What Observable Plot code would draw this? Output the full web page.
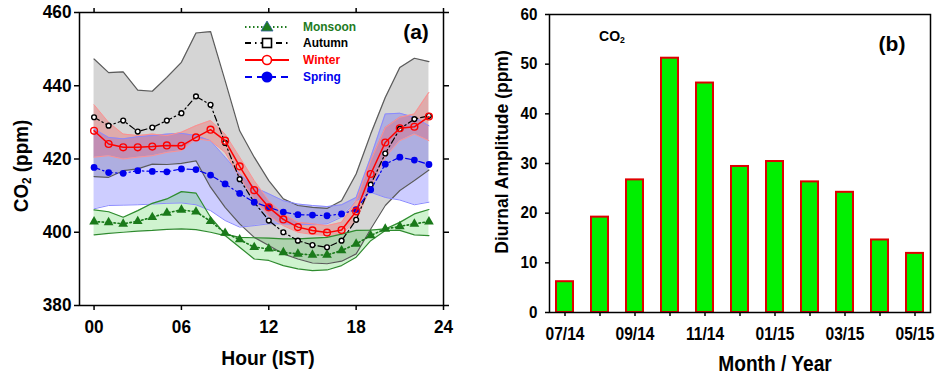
<!DOCTYPE html>
<html><head><meta charset="utf-8">
<script src="https://cdn.jsdelivr.net/npm/d3@7"></script>
<script src="https://cdn.jsdelivr.net/npm/@observablehq/plot@0.6"></script>
<style>
body{margin:0;background:#fff;}
#wrap{position:relative;width:936px;height:378px;overflow:hidden;font-family:"Liberation Sans",Arial,sans-serif;font-weight:bold;color:#000;}
.abs{position:absolute;white-space:nowrap;line-height:1;}
.plot{position:absolute;top:0;}
sub{font-size:0.62em;vertical-align:-0.25em;}
</style></head><body><div id="wrap"></div>
<script>
const FONT = '"Liberation Sans",Arial,sans-serif';

// ---- Panel (a): diurnal CO2 by season ----
const hours = [0,1,2,3,4,5,6,7,8,9,10,11,12,13,14,15,16,17,18,19,20,21,22,23];
const hourTicks = [0, 6, 12, 18, 24];
const co2Ticks = [380, 400, 420, 440, 460];

const monsoonMean = [402.9,402.7,402.3,403.0,404.1,405.3,406.1,405.6,403.0,399.8,398.0,395.9,395.5,394.5,394.1,393.8,393.8,395.0,396.8,399.1,400.9,401.6,402.3,402.9];
const monsoonHi   = [406.1,405.6,404.1,405.9,407.9,409.1,411.1,410.7,404.1,399.5,398.6,398.5,398.4,398.2,398.2,398.4,398.6,399.5,400.5,400.6,400.9,402.7,405.0,406.2];
const monsoonLo   = [399.3,399.7,400.0,400.3,400.5,400.8,400.9,400.7,400.0,399.1,395.9,392.7,392.3,390.9,390.0,389.5,389.7,390.9,393.2,397.7,400.5,400.5,399.3,399.1];

const autumnMean = [431.4,429.1,430.5,427.5,428.6,430.5,432.5,437.1,434.8,424.4,414.5,408.2,403.2,400.0,397.7,396.5,395.9,397.7,403.4,413.0,421.5,428.2,430.9,431.8];
const autumnHi   = [447.3,443.6,443.8,438.8,438.5,442.3,446.4,454.4,454.8,441.4,427.7,420.5,414.1,409.1,407.3,406.8,406.5,408.6,415.9,426.8,436.8,445.0,447.5,446.6];
const autumnLo   = [415.2,415.0,416.8,417.3,418.6,418.5,418.8,419.5,412.3,406.8,402.3,398.6,396.4,394.1,392.7,391.6,391.4,392.1,394.1,400.9,407.3,411.4,414.1,417.0];

const winterMean = [427.7,424.1,423.2,423.2,423.4,423.7,423.6,425.9,428.0,425.0,418.0,411.5,406.8,403.5,401.4,400.5,399.9,400.6,405.7,415.9,424.5,428.4,428.8,431.6];
const winterHi   = [434.8,430.0,426.8,426.4,426.8,426.4,427.3,429.1,430.5,426.8,420.5,414.1,408.6,405.0,402.7,402.3,401.8,402.7,408.6,419.5,428.6,431.4,432.3,438.2];
const winterLo   = [420.5,420.9,420.0,420.5,420.9,421.8,422.3,425.5,425.0,421.8,415.0,409.1,404.5,401.8,400.0,399.4,399.1,399.5,403.2,412.3,420.5,425.0,426.8,425.0];

const springMean = [417.7,416.3,416.1,416.8,416.6,416.5,417.3,417.1,415.6,413.2,410.6,408.2,406.8,405.5,404.8,404.7,404.5,405.0,406.2,411.6,418.6,420.5,419.7,418.5];
const springHi   = [428.2,425.9,425.5,426.1,426.4,426.8,427.0,426.4,425.0,420.5,415.9,412.3,410.5,408.6,407.7,407.3,407.0,407.5,409.5,420.5,432.3,432.5,431.4,429.1];
const springLo   = [406.4,407.3,407.4,407.5,407.7,407.9,408.0,407.5,405.9,403.2,401.4,401.8,402.3,402.3,402.1,402.1,402.3,404.1,408.6,410.9,409.5,408.8,407.5,408.2];

// ---- Panel (b): monthly diurnal amplitude ----
const months = ["07/14","08/14","09/14","10/14","11/14","12/14","01/15","02/15","03/15","04/15","05/15"];
const amplitude = [6.2,19.2,26.7,51.2,46.2,29.4,30.4,26.3,24.2,14.6,11.9];
const monthTickLabels = ["07/14","09/14","11/14","01/15","03/15","05/15"];
const ampTicks = [0,10,20,30,40,50,60];

function rows(mean, lo, hi) {
  return hours.map((h, i) => ({h, mean: mean[i], lo: lo[i], hi: hi[i]}));
}
const monsoon = rows(monsoonMean, monsoonLo, monsoonHi);
const autumn = rows(autumnMean, autumnLo, autumnHi);
const winter = rows(winterMean, winterLo, winterHi);
const spring = rows(springMean, springLo, springHi);

const left = Plot.plot({
  width: 460, height: 378,
  marginLeft: 79, marginRight: 17, marginTop: 12, marginBottom: 73,
  x: {domain: [-1, 24]},
  y: {domain: [380, 460]},
  style: {fontFamily: FONT, fontSize: "18px", fontWeight: "bold", color: "#000", background: "transparent", overflow: "visible"},
  marks: [
    Plot.areaY(autumn, {x: "h", y1: "lo", y2: "hi", fill: "#9a9a9a", fillOpacity: 0.42}),
    Plot.areaY(spring, {x: "h", y1: "lo", y2: "hi", fill: "#4848ff", fillOpacity: 0.27}),
    Plot.areaY(winter, {x: "h", y1: "lo", y2: "hi", fill: "#ff3030", fillOpacity: 0.25}),
    Plot.areaY(monsoon, {x: "h", y1: "lo", y2: "hi", fill: "#40d040", fillOpacity: 0.25}),
    Plot.line(autumn, {x: "h", y: "hi", stroke: "#5a5a5a", strokeWidth: 1.2}),
    Plot.line(autumn, {x: "h", y: "lo", stroke: "#5a5a5a", strokeWidth: 1.2}),
    Plot.line(spring, {x: "h", y: "hi", stroke: "#8a8aff", strokeWidth: 1}),
    Plot.line(spring, {x: "h", y: "lo", stroke: "#8a8aff", strokeWidth: 1}),
    Plot.line(winter, {x: "h", y: "hi", stroke: "#ff9090", strokeWidth: 1}),
    Plot.line(winter, {x: "h", y: "lo", stroke: "#ff9090", strokeWidth: 1}),
    Plot.line(monsoon, {x: "h", y: "hi", stroke: "#2e8b2e", strokeWidth: 1.2}),
    Plot.line(monsoon, {x: "h", y: "lo", stroke: "#2e8b2e", strokeWidth: 1.2}),
    Plot.line(monsoon, {x: "h", y: "mean", stroke: "#1a7a1a", strokeWidth: 1.6, strokeDasharray: "1.5,2.5"}),
    Plot.dot(monsoon, {x: "h", y: "mean", symbol: "triangle", r: 3.6, fill: "#1a7a1a", stroke: "none"}),
    Plot.line(autumn, {x: "h", y: "mean", stroke: "#000", strokeWidth: 1.2, strokeDasharray: "6,3,1.5,3"}),
    Plot.dot(autumn, {x: "h", y: "mean", r: 2.4, fill: "#fff", stroke: "#000", strokeWidth: 1.4}),
    Plot.line(spring, {x: "h", y: "mean", stroke: "#0000ee", strokeWidth: 1.2, strokeDasharray: "6,3,1.5,3"}),
    Plot.dot(spring, {x: "h", y: "mean", r: 3.4, fill: "#0000ee", stroke: "none"}),
    Plot.line(winter, {x: "h", y: "mean", stroke: "#ff0000", strokeWidth: 1.5}),
    Plot.dot(winter, {x: "h", y: "mean", r: 3.4, fill: "none", stroke: "#ff0000", strokeWidth: 1.4}),
    Plot.frame({stroke: "#000", strokeWidth: 1.5}),
    Plot.axisY({ticks: co2Ticks, tickSize: 5, tickPadding: 3, label: null, strokeWidth: 1.5, fontSize: 18.5}),
    Plot.axisY({anchor: "right", ticks: co2Ticks, tickSize: 5, tickFormat: () => "", label: null, strokeWidth: 1.5}),
    Plot.axisX({ticks: hourTicks, tickSize: 5, tickPadding: 9, tickFormat: d => String(d).padStart(2, "0"), label: null, strokeWidth: 1.5, fontSize: 18.5}),
    Plot.axisX({anchor: "top", ticks: hourTicks, tickSize: 5, tickFormat: () => "", label: null, strokeWidth: 1.5})
  ]
});

const right = Plot.plot({
  width: 466, height: 378,
  marginLeft: 79, marginRight: 6, marginTop: 14, marginBottom: 66,
  x: {domain: months, type: "band", paddingInner: 0.52, paddingOuter: 0.12},
  y: {domain: [0, 60]},
  style: {fontFamily: FONT, fontSize: "16px", fontWeight: "bold", color: "#000", background: "transparent", overflow: "visible"},
  marks: [
    Plot.barY(months.map((m, i) => ({m, v: amplitude[i]})), {x: "m", y: "v", fill: "#00ef00", stroke: "#e00000", strokeWidth: 2}),
    Plot.frame({stroke: "#000", strokeWidth: 1.5}),
    Plot.axisY({ticks: ampTicks, tickSize: 4, tickPadding: 8, label: null, strokeWidth: 1.5, fontSize: 16}),
    Plot.axisX({tickSize: 4, tickPadding: 10, tickFormat: d => monthTickLabels.includes(d) ? d : "", label: null, strokeWidth: 1.5, fontSize: 19})
  ]
});

// condense tick labels horizontally (reference uses a narrow bold face)
function condense(svg, sx) {
  svg.querySelectorAll("text").forEach(t => {
    const tr = t.getAttribute("transform") || "";
    t.setAttribute("transform", tr + ` scale(${sx},1)`);
  });
}
condense(left, 0.93);
right.querySelectorAll('g[aria-label="x-axis tick label"] text').forEach(t => {
  t.setAttribute("transform", (t.getAttribute("transform") || "") + " scale(0.82,1)");
});
right.querySelectorAll('g[aria-label="y-axis tick label"] text').forEach(t => {
  t.setAttribute("transform", (t.getAttribute("transform") || "") + " scale(0.95,1)");
});

const wrap = document.getElementById("wrap");
left.classList.add("plot"); left.style.left = "0px";
right.classList.add("plot"); right.style.left = "470px";
wrap.appendChild(left);
wrap.appendChild(right);

function addText(html, cx, cy, size, color, rotate, sx) {
  const d = document.createElement("div");
  d.className = "abs";
  d.innerHTML = html;
  d.style.fontSize = size + "px";
  d.style.color = color || "#000";
  d.style.left = cx + "px";
  d.style.top = cy + "px";
  d.style.transform = "translate(-50%,-50%)" + (rotate ? " rotate(" + rotate + "deg)" : "") + (sx ? " scale(" + sx + ",1)" : "");
  wrap.appendChild(d);
  return d;
}
addText("CO<sub>2</sub> (ppm)", 22, 166, 20.5, "#000", -90, 0.92);
addText("Hour (IST)", 268, 357, 21, "#000", 0, 0.92);
addText("(a)", 416, 31, 21);
addText("Diurnal Amplitude (ppm)", 503, 152, 17.5, "#000", -90);
addText("Month / Year", 775, 364, 22, "#000", 0, 0.87);
addText("(b)", 892, 43, 21);
addText("CO<sub>2</sub>", 612, 37, 14);

// legend
const legendItems = [
  {name: "Monsoon", color: "#1e7b1e", dash: "1.5,2.5", marker: "tri", y: 27},
  {name: "Autumn", color: "#000", dash: "6,4,1.5,4", marker: "sq", y: 43},
  {name: "Winter", color: "#ff0000", dash: "", marker: "circ", y: 60},
  {name: "Spring", color: "#0000ee", dash: "7,5", marker: "dot", y: 77}
];
legendItems.forEach(it => {
  const ns = "http://www.w3.org/2000/svg";
  const s = document.createElementNS(ns, "svg");
  s.setAttribute("width", 48); s.setAttribute("height", 16);
  s.style.position = "absolute"; s.style.left = "243px"; s.style.top = (it.y - 8) + "px";
  const ln = document.createElementNS(ns, "line");
  ln.setAttribute("x1", 2); ln.setAttribute("x2", 46); ln.setAttribute("y1", 8); ln.setAttribute("y2", 8);
  ln.setAttribute("stroke", it.color); ln.setAttribute("stroke-width", 2);
  if (it.dash) ln.setAttribute("stroke-dasharray", it.dash);
  s.appendChild(ln);
  let m;
  if (it.marker === "tri") {
    m = document.createElementNS(ns, "path"); m.setAttribute("d", "M24,2 L30,12 L18,12 Z");
    m.setAttribute("fill", "#1e7b1e"); m.setAttribute("stroke", "#3060a0"); m.setAttribute("stroke-width", 0.8);
  } else if (it.marker === "sq") {
    m = document.createElementNS(ns, "rect"); m.setAttribute("x", 19.5); m.setAttribute("y", 3.5); m.setAttribute("width", 9); m.setAttribute("height", 9);
    m.setAttribute("fill", "#fff"); m.setAttribute("stroke", "#000"); m.setAttribute("stroke-width", 1.6);
  } else if (it.marker === "circ") {
    m = document.createElementNS(ns, "circle"); m.setAttribute("cx", 24); m.setAttribute("cy", 8); m.setAttribute("r", 4.5);
    m.setAttribute("fill", "#fff"); m.setAttribute("stroke", "#ff0000"); m.setAttribute("stroke-width", 1.6);
  } else {
    m = document.createElementNS(ns, "circle"); m.setAttribute("cx", 24); m.setAttribute("cy", 8); m.setAttribute("r", 5.5);
    m.setAttribute("fill", "#0000ee");
  }
  s.appendChild(m);
  wrap.appendChild(s);
  const t = document.createElement("div");
  t.className = "abs"; t.textContent = it.name;
  t.style.fontSize = "13px"; t.style.color = it.color;
  t.style.left = "303px"; t.style.top = (it.y - 7) + "px";
  t.style.transform = "scale(0.92,1)"; t.style.transformOrigin = "left center";
  wrap.appendChild(t);
});
</script></body></html>
